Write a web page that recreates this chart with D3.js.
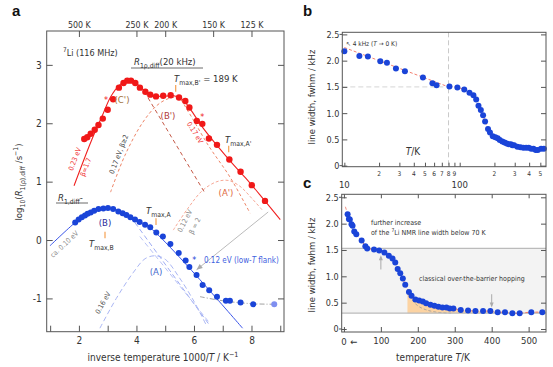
<!DOCTYPE html>
<html><head><meta charset="utf-8">
<script src="https://cdn.jsdelivr.net/npm/d3@7"></script>
<style>
body{margin:0;background:#fff}
svg{display:block}
text{font-family:'Liberation Sans Narrow','DejaVu Sans Condensed','Roboto Condensed',Roboto,sans-serif;fill:#333}
</style>
</head><body><svg id="c" width="553" height="367"></svg>
<script>
// ---------------- DATA ----------------
// panel a: R1rho (red) vs 1000/T
const redPts = [[2.185,1.73],[2.29,1.76],[2.41,1.82],[2.55,1.89],[2.68,1.97],[2.83,2.08],[3.0,2.23],[3.19,2.41],[3.39,2.61],[3.55,2.69],[3.68,2.73],[3.81,2.73],[3.96,2.69],[4.12,2.61],[4.31,2.54],[4.48,2.49],[4.68,2.46],[4.93,2.47],[5.19,2.48],[5.48,2.44],[5.70,2.38],[5.84,2.27],[6.10,2.04],[6.29,1.99],[6.52,1.74],[6.80,1.63],[7.23,1.38],[7.62,1.17],[8.01,0.94],[8.47,0.67]];
const redStars = [[2.94,2.42],[6.29,2.12]];
const redFit = [[1.83,0.93],[2.44,1.71],[2.83,2.15],[3.1,2.45],[3.4,2.65],[3.7,2.74],[3.95,2.70],[4.25,2.57],[4.55,2.48],[4.9,2.46],[5.3,2.47],[5.6,2.41],[5.9,2.22],[6.3,1.93],[6.8,1.62],[7.3,1.33],[7.8,1.06],[8.3,0.77],[9.0,0.35]];
const compC = [[3.9,2.69],[4.3,2.52],[6.35,0.83]];
const compB = [[3.1,0.82],[3.6,1.45],[4.2,2.0],[4.7,2.3],[5.1,2.42],[5.45,2.44],[5.8,2.2],[6.5,1.62],[7.25,1.08],[7.95,0.46]];
const compA2 = [[5.28,0.17],[5.8,0.55],[6.3,0.85],[6.8,1.0],[7.2,1.02],[7.6,0.92],[8.0,0.72],[8.4,0.50]];
// panel a: R1 (blue)
const bluePts = [[1.87,0.30],[1.99,0.35],[2.10,0.39],[2.21,0.42],[2.30,0.45],[2.41,0.47],[2.53,0.50],[2.68,0.53],[2.85,0.54],[3.01,0.55],[3.19,0.53],[3.37,0.49],[3.52,0.46],[3.65,0.43],[3.79,0.39],[3.95,0.35],[4.11,0.31],[4.30,0.26],[4.48,0.22],[4.69,0.13],[4.92,0.06],[5.18,-0.07],[5.47,-0.22],[5.71,-0.35],[5.84,-0.46],[6.09,-0.60],[6.30,-0.77],[6.53,-0.86],[6.80,-0.97],[7.11,-1.04],[7.25,-1.04],[7.62,-1.07],[8.06,-1.10]];
const blueStar = [[6.01,-0.33]];
const blueFaint = [[8.79,-1.10]];
const blueFit = [[0.99,-0.10],[1.87,0.30],[2.3,0.46],[2.9,0.55],[3.4,0.49],[4.0,0.34],[4.5,0.20],[7.69,-1.51]];
const compBdesc1 = [[3.5,0.46],[3.9,0.33],[6.5,-1.43]];
const compBdesc2 = [[4.12,0.06],[6.56,-1.43]];
const compA = [[2.73,-1.51],[3.3,-1.0],[3.9,-0.55],[4.3,-0.32],[4.65,-0.27],[5.0,-0.33],[5.5,-0.65],[6.0,-1.05],[6.45,-1.48]];
const plateau = [[6.21,-0.97],[7.0,-1.04],[8.0,-1.09],[8.85,-1.10]];
const xTicksA = [1,2,3,4,5,6,7,8,9];
const yTicksA = [-1,0,1,2,3];
const topTempsA = [500,250,200,150,125];
// panels b, c: line width vs temperature
const tempT = [10,13.5,16,20.5,23.4,28,33.5,48,58,63,81.5,95.5,109.5,121.6,131.5,139,145.5,152.5,159.5,166,176,183,193.5,203.6,213.5,222.5,234.2,245,255.9,266.7,277.5,286.5,296.4,316.2,336,356,376.6,396.4,416.2,436,455.9,475.7,507.2,537];
const widthW = [2.18,2.09,2.08,1.99,1.96,1.85,1.80,1.68,1.57,1.53,1.51,1.49,1.45,1.39,1.34,1.26,1.14,1.06,0.96,0.84,0.70,0.63,0.56,0.54,0.52,0.49,0.46,0.44,0.42,0.41,0.41,0.39,0.39,0.36,0.35,0.34,0.34,0.34,0.32,0.32,0.30,0.30,0.32,0.32];
const lowTfit = [[10,2.25],[80,1.5]];
const fitStart = [[4,2.32]];
const ghostCurve = [[172,0.72],[185,0.55],[200,0.44],[220,0.37],[250,0.32],[290,0.30]];
const yTicksBC = [0,0.5,1,1.5,2,2.5];
const xTicksB = [10,20,30,40,50,60,70,80,90,100,200,300,400,500];
const xTicksC = [0,100,200,300,400,500];
const bandLo = 0.3, bandHi = 1.53;

// ---------------- DRAW ----------------
const svg = d3.select('#c');
const AX = '#555';
function rich(sel, parts, fs){
  let shift = 0;
  parts.forEach(p=>{
    const target = p.sub ? fs*0.3 : (p.sup ? -fs*0.4 : 0);
    const ts = sel.append('tspan').attr('dy', target - shift).text(p.t);
    if (p.sub||p.sup) ts.attr('font-size', fs*0.72);
    if (p.i) ts.attr('font-style','italic');
    shift = target;
  });
  return sel;
}
function styleAxis(g){
  g.select('.domain').remove();
  g.selectAll('.tick line').attr('stroke',AX);
  g.selectAll('.tick text').attr('fill','#333').style('font-family',"'Liberation Sans Narrow','DejaVu Sans Condensed',Roboto,sans-serif");
}
function txt(g,x,y,s,o={}){
  const t=g.append('text').attr('x',x).attr('y',y).attr('font-size',o.fs||9).attr('text-anchor',o.anchor||'start');
  if(o.fill) t.style('fill',o.fill);
  if(o.rot!==undefined) t.attr('transform',`rotate(${o.rot},${x},${y})`);
  if(Array.isArray(s)) rich(t,s,o.fs||9); else t.text(s);
  return t;
}
function arrowHead(g,x1,y1,x2,y2,col,len=5,w=2.5){
  const a=Math.atan2(y2-y1,x2-x1);
  const p=[[x2,y2],[x2-len*Math.cos(a)+w*Math.sin(a),y2-len*Math.sin(a)-w*Math.cos(a)],[x2-len*Math.cos(a)-w*Math.sin(a),y2-len*Math.sin(a)+w*Math.cos(a)]];
  g.append('path').attr('d','M'+p.map(q=>q.join(',')).join('L')+'Z').attr('fill',col);
}

// ===== Panel a =====
const xA = d3.scaleLinear().domain([0.88,9.13]).range([46.7,284]);
const yA = d3.scaleLinear().domain([-1.57,3.58]).range([331.7,31]);
const gA = svg.append('g');
const clipA = svg.append('clipPath').attr('id','clipA');
clipA.append('rect').attr('x',46.7).attr('y',31).attr('width',237.3).attr('height',300.7);
const pA = gA.append('g').attr('clip-path','url(#clipA)');
const lineA = d3.line().x(d=>xA(d[0])).y(d=>yA(d[1]));
const lineAs = d3.line().x(d=>xA(d[0])).y(d=>yA(d[1])).curve(d3.curveCatmullRom);

// component curves
pA.append('path').attr('d',lineAs(compA)).attr('fill','none').attr('stroke','#aab6f4').attr('stroke-width',1).attr('stroke-dasharray','5,3');
pA.append('path').attr('d',lineA(compBdesc1)).attr('fill','none').attr('stroke','#9eacf2').attr('stroke-width',1).attr('stroke-dasharray','5,3');
pA.append('path').attr('d',lineA(compBdesc2)).attr('fill','none').attr('stroke','#b8c2f6').attr('stroke-width',1).attr('stroke-dasharray','5,3');
pA.append('path').attr('d',lineAs(compA2)).attr('fill','none').attr('stroke','#f6a896').attr('stroke-width',1).attr('stroke-dasharray','3,2');
pA.append('path').attr('d',lineAs(compB)).attr('fill','none').attr('stroke','#ee8466').attr('stroke-width',1).attr('stroke-dasharray','3,2.5');
pA.append('path').attr('d',lineA(compC)).attr('fill','none').attr('stroke','#c55a48').attr('stroke-width',1).attr('stroke-dasharray','4,3');
pA.append('path').attr('d',lineAs(plateau)).attr('fill','none').attr('stroke','#888').attr('stroke-width',0.8).attr('stroke-dasharray','5,2,1,2');
// gray arrow
{
  const x1=xA(8.58),y1=yA(0.48),x2=xA(6.09),y2=yA(-0.51);
  pA.append('line').attr('x1',x1).attr('y1',y1).attr('x2',x2).attr('y2',y2).attr('stroke','#bbb').attr('stroke-width',1);
  arrowHead(pA,x1,y1,x2,y2,'#aaa',6,2.5);
}
// fits
pA.append('path').attr('d',lineAs(redFit)).attr('fill','none').attr('stroke','#f02020').attr('stroke-width',1.1);
pA.append('path').attr('d',lineAs(blueFit)).attr('fill','none').attr('stroke','#3a55e8').attr('stroke-width',1);
// points
pA.selectAll('.rp').data(redPts).join('circle').attr('cx',d=>xA(d[0])).attr('cy',d=>yA(d[1])).attr('r',3.2).attr('fill','#f01818');
pA.selectAll('.bp').data(bluePts).join('circle').attr('cx',d=>xA(d[0])).attr('cy',d=>yA(d[1])).attr('r',3).attr('fill','#1a44d8');
pA.selectAll('.bf').data(blueFaint).join('circle').attr('cx',d=>xA(d[0])).attr('cy',d=>yA(d[1])).attr('r',3).attr('fill','#7f8ff0');
pA.selectAll('.rs').data(redStars).join('text').attr('x',d=>xA(d[0])).attr('y',d=>yA(d[1])+4).attr('text-anchor','middle').attr('font-size',9).style('fill','#f01818').text('*');
pA.selectAll('.bs').data(blueStar).join('text').attr('x',d=>xA(d[0])).attr('y',d=>yA(d[1])+4).attr('text-anchor','middle').attr('font-size',9).style('fill','#1a44d8').text('*');

// axes a
gA.append('rect').attr('x',46.7).attr('y',31).attr('width',237.3).attr('height',300.7).attr('fill','none').attr('stroke',AX).attr('stroke-width',1);
gA.append('g').attr('transform','translate(46.7,0)').call(d3.axisLeft(yA).tickValues(yTicksA).tickSize(-6).tickPadding(5).tickFormat(d=>d<0?'-'+Math.abs(d):d)).call(styleAxis).selectAll('text').attr('font-size',10);
gA.append('g').attr('transform','translate(284,0)').call(d3.axisRight(yA).tickValues(yTicksA).tickSize(-6).tickFormat('')).call(styleAxis);
gA.append('g').attr('transform','translate(0,331.7)').call(d3.axisBottom(xA).tickValues(xTicksA).tickSize(-6).tickPadding(5).tickFormat(d=>d%2===0?d:'')).call(styleAxis).selectAll('text').attr('font-size',10);
gA.append('g').attr('transform','translate(0,31)').call(d3.axisTop(xA).tickValues(topTempsA.map(t=>1000/t)).tickSize(-6).tickPadding(3).tickFormat((d,i)=>topTempsA[i]+' K')).call(styleAxis).selectAll('text').attr('font-size',8.8);

// labels a
txt(gA,163,361,[{t:'inverse temperature 1000/'},{t:'T',i:true},{t:' / K'},{t:'−1',sup:true}],{fs:10,anchor:'middle'});
txt(gA,22,182,[{t:'log'},{t:'10',sub:true},{t:'('},{t:'R',i:true},{t:'1(ρ),diff',sub:true},{t:' /s'},{t:'−1',sup:true},{t:')'}],{fs:9.5,anchor:'middle',rot:-90});
txt(gA,63,56,[{t:'7',sup:true},{t:'Li (116 MHz)'}],{fs:9});
txt(gA,134,65,[{t:'R',i:true},{t:'1ρ,diff',sub:true},{t:'(20 kHz)'}],{fs:9.5});
gA.append('line').attr('x1',131).attr('x2',203).attr('y1',68).attr('y2',68).attr('stroke','#444').attr('stroke-width',0.8);
txt(gA,174,82,[{t:'T',i:true},{t:'max,B\'',sub:true},{t:' = 189 K'}],{fs:9.5});
txt(gA,122,103,"(C')",{fs:9.5,fill:'#a0703a',anchor:'middle'});
txt(gA,168,119,"(B')",{fs:9.5,fill:'#b03a3a',anchor:'middle'});
txt(gA,225,143,[{t:'T',i:true},{t:'max,A\'',sub:true}],{fs:9.5});
txt(gA,226,196,"(A')",{fs:9.5,fill:'#e06840',anchor:'middle'});
txt(gA,58,201,[{t:'R',i:true},{t:'1,diff',sub:true},{t:'-'}],{fs:9.5});
gA.append('line').attr('x1',56).attr('x2',88).attr('y1',203).attr('y2',203).attr('stroke','#444').attr('stroke-width',0.8);
txt(gA,105,226,'(B)',{fs:9.5,fill:'#2a2a9a',anchor:'middle'});
txt(gA,89,247,[{t:'T',i:true},{t:'max,B',sub:true}],{fs:9.5});
txt(gA,146,214,[{t:'T',i:true},{t:'max,A',sub:true}],{fs:9.5});
txt(gA,156,275,'(A)',{fs:9.5,fill:'#4466cc',anchor:'middle'});
txt(gA,204,263,[{t:'0.12 eV (low-'},{t:'T',i:true},{t:' flank)'}],{fs:8,fill:'#3f5fe0'});
// orange markers
[[175.7,85,91.7],[228.7,145.7,152.3],[105,231.7,238.3],[156,218.3,225]].forEach(m=>gA.append('line').attr('x1',m[0]).attr('x2',m[0]).attr('y1',m[1]).attr('y2',m[2]).attr('stroke','#f5a050').attr('stroke-width',1.2));
// rotated annotations
txt(gA,77,160,'0.23 eV',{fs:7,fill:'#f03030',anchor:'middle',rot:-69});
txt(gA,88,168,'β=1.7',{fs:7,fill:'#f03030',anchor:'middle',rot:-69});
txt(gA,121,155,'0.17 eV, β≥2',{fs:7,fill:'#444',anchor:'middle',rot:-69});
txt(gA,193,134,'0.17 eV',{fs:7,fill:'#f03030',anchor:'middle',rot:58});
txt(gA,66,246,'ca. 0.10 eV',{fs:7,fill:'#888',anchor:'middle',rot:-43});
txt(gA,105,304,'0.16 eV',{fs:7,fill:'#555',anchor:'middle',rot:-61});
txt(gA,187,222,'0.12 eV',{fs:7,fill:'#888',anchor:'middle',rot:-63});
txt(gA,197,227,'β = 2',{fs:7,fill:'#888',anchor:'middle',rot:-63});
// panel letter
svg.append('text').attr('x',12).attr('y',16).attr('font-size',15).attr('font-weight','bold').style('fill','#111').style('font-family','Arial,Liberation Sans,sans-serif').text('a');

// ===== Panel b =====
const xB = d3.scaleLog().domain([9.6,560]).range([342.3,546]);
const yB = d3.scaleLinear().domain([-0.02,2.54]).range([166.7,32.3]);
const gB = svg.append('g');
const lineB = d3.line().x(d=>xB(d[0])).y(d=>yB(d[1]));
const ptsBC = tempT.map((t,i)=>[t,widthW[i]]);
gB.append('line').attr('x1',xB(80)).attr('x2',xB(80)).attr('y1',32.3).attr('y2',166.7).attr('stroke','#bbb').attr('stroke-width',0.8).attr('stroke-dasharray','5,3');
gB.append('line').attr('x1',xB(9.6)).attr('x2',xB(80)).attr('y1',yB(1.5)).attr('y2',yB(1.5)).attr('stroke','#ccc').attr('stroke-width',0.8).attr('stroke-dasharray','5,3');
gB.append('path').attr('d',lineB(lowTfit)).attr('fill','none').attr('stroke','#f07060').attr('stroke-width',0.9).attr('stroke-dasharray','3,2');
gB.append('path').attr('d',lineB.curve(d3.curveCatmullRom)(ptsBC.filter(d=>d[0]>=80))).attr('fill','none').attr('stroke','#f07060').attr('stroke-width',0.9).attr('stroke-dasharray','3,2');
gB.selectAll('.pb').data(ptsBC).join('circle').attr('cx',d=>xB(d[0])).attr('cy',d=>yB(d[1])).attr('r',3).attr('fill','#1a44d8');
gB.append('rect').attr('x',342.3).attr('y',32.3).attr('width',203.7).attr('height',134.4).attr('fill','none').attr('stroke',AX);
gB.append('g').attr('transform','translate(342.3,0)').call(d3.axisLeft(yB).tickValues(yTicksBC).tickSize(-5).tickPadding(3).tickFormat(d=>d===0?'0':d.toFixed(1))).call(styleAxis).selectAll('text').attr('font-size',9);
gB.append('g').attr('transform','translate(546,0)').call(d3.axisRight(yB).tickValues(yTicksBC).tickSize(-5).tickFormat('')).call(styleAxis);
gB.append('g').attr('transform','translate(0,166.7)').call(d3.axisBottom(xB).tickValues(xTicksB).tickSize(-4).tickFormat('')).call(styleAxis);
[0,2.5].forEach(v=>gB.append('line').attr('x1',339.5).attr('x2',342.3).attr('y1',yB(v)).attr('y2',yB(v)).attr('stroke',AX));
gB.selectAll('.minl').data(xTicksB.filter(d=>d!==10&&d!==100)).join('text').attr('x',d=>xB(d)).attr('y',176).attr('text-anchor','middle').attr('font-size',6.5).text(d=>String(d)[0]);
[10,100].forEach(v=>gB.append('text').attr('x',xB(v)).attr('y',187.5).attr('text-anchor','middle').attr('font-size',9.5).text(v));
txt(gB,413,155,[{t:'T',i:true},{t:'/K'}],{fs:10,anchor:'middle'});
txt(gB,346,46,[{t:'↖ 4 kHz ('},{t:'T',i:true},{t:' → 0 K)'}],{fs:6.5});
txt(gB,315,97,'line width, fwhm / kHz',{fs:9.5,anchor:'middle',rot:-90});
svg.append('text').attr('x',303).attr('y',16).attr('font-size',15).attr('font-weight','bold').style('fill','#111').style('font-family','Arial,Liberation Sans,sans-serif').text('b');

// ===== Panel c =====
const xC = d3.scaleLinear().domain([-6,547]).range([341.7,546]);
const yC = d3.scaleLinear().domain([-0.057,2.557]).range([332,194.3]);
const gC = svg.append('g');
const lineC = d3.line().x(d=>xC(d[0])).y(d=>yC(d[1]));
gC.append('rect').attr('x',341.7).attr('y',yC(bandHi)).attr('width',204.3).attr('height',yC(bandLo)-yC(bandHi)).attr('fill','#f3f3f3');
// orange area
const interpW = d3.scaleLinear().domain(tempT).range(widthW);
const areaData = [[172,interpW(172)]].concat(ptsBC.filter(d=>d[0]>172));
gC.append('path').attr('d',d3.area().x(d=>xC(d[0])).y0(yC(bandLo)).y1(d=>yC(d[1])).curve(d3.curveCatmullRom)(areaData)).attr('fill','#fcd3a2');
gC.append('path').attr('d',lineC.curve(d3.curveCatmullRom)(ghostCurve)).attr('fill','none').attr('stroke','#999').attr('stroke-width',0.8).attr('stroke-dasharray','3,2');
[bandLo,bandHi].forEach(v=>gC.append('line').attr('x1',341.7).attr('x2',546).attr('y1',yC(v)).attr('y2',yC(v)).attr('stroke','#bbb').attr('stroke-width',1.2));
gC.append('path').attr('d',d3.line().x(d=>xC(d[0])).y(d=>yC(d[1])).curve(d3.curveCatmullRom)(fitStart.concat(ptsBC))).attr('fill','none').attr('stroke','#f07060').attr('stroke-width',0.9).attr('stroke-dasharray','3,2');
gC.selectAll('.pc').data(ptsBC).join('circle').attr('cx',d=>xC(d[0])).attr('cy',d=>yC(d[1])).attr('r',3).attr('fill','#1a44d8');
// arrows
{
  const xa=xC(100); gC.append('line').attr('x1',xa).attr('x2',xa).attr('y1',yC(1.13)).attr('y2',yC(1.36)).attr('stroke','#aaa');
  arrowHead(gC,xa,yC(1.13),xa,yC(1.4),'#aaa',5,2);
  const xb=xC(400); gC.append('line').attr('x1',xb).attr('x2',xb).attr('y1',yC(0.66)).attr('y2',yC(0.45)).attr('stroke','#aaa');
  arrowHead(gC,xb,yC(0.66),xb,yC(0.41),'#aaa',5,2);
}
gC.append('rect').attr('x',341.7).attr('y',194.3).attr('width',204.3).attr('height',137.7).attr('fill','none').attr('stroke',AX);
gC.append('g').attr('transform','translate(341.7,0)').call(d3.axisLeft(yC).tickValues(yTicksBC).tickSize(-5).tickPadding(3).tickFormat(d=>d===0?'0':d.toFixed(1))).call(styleAxis).selectAll('text').attr('font-size',9);
gC.append('g').attr('transform','translate(546,0)').call(d3.axisRight(yC).tickValues(yTicksBC).tickSize(-5).tickFormat('')).call(styleAxis);
gC.append('g').attr('transform','translate(0,332)').call(d3.axisBottom(xC).tickValues(xTicksC).tickSize(-5).tickPadding(5).tickFormat(d=>d===0?'':d)).call(styleAxis).selectAll('text').attr('font-size',9.5);
gC.append('g').attr('transform','translate(0,194.3)').call(d3.axisTop(xC).tickValues(xTicksC).tickSize(-4).tickFormat('')).call(styleAxis);
[0,2.5].forEach(v=>gC.append('line').attr('x1',339).attr('x2',341.7).attr('y1',yC(v)).attr('y2',yC(v)).attr('stroke',AX));
gC.append('text').attr('x',xC(0)).attr('y',345).attr('text-anchor','middle').attr('font-size',9.5).text('0');
gC.append('text').attr('x',xC(0)+6).attr('y',345).attr('font-size',9.5).text('←');
txt(gC,433,361,[{t:'temperature '},{t:'T',i:true},{t:'/K'}],{fs:10,anchor:'middle'});
txt(gC,315,265,'line width, fwhm / kHz',{fs:9.5,anchor:'middle',rot:-90});
txt(gC,371,225,'further increase',{fs:7});
txt(gC,371,234.5,[{t:'of the '},{t:'7',sup:true},{t:'Li NMR line width below 70 K'}],{fs:7});
txt(gC,419,281,'classical over-the-barrier hopping',{fs:7});
svg.append('text').attr('x',303).attr('y',188).attr('font-size',15).attr('font-weight','bold').style('fill','#111').style('font-family','Arial,Liberation Sans,sans-serif').text('c');
</script>
</body></html>
